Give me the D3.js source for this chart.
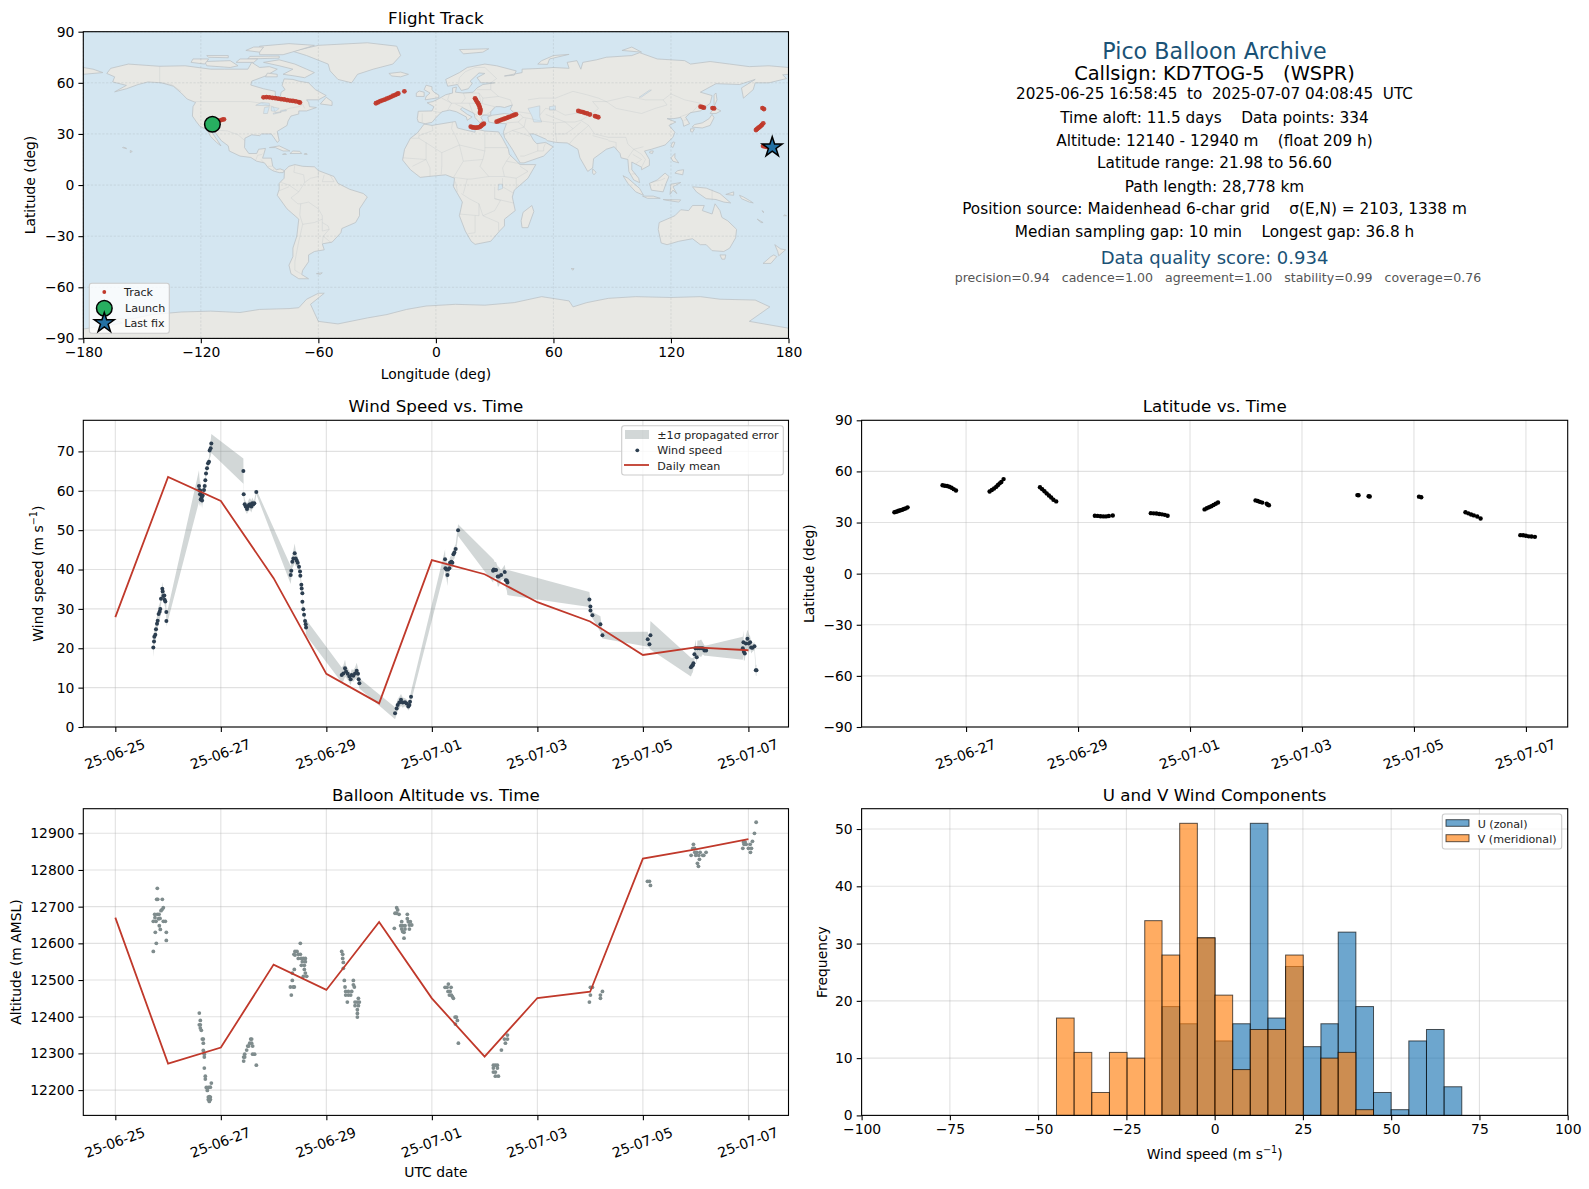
<!DOCTYPE html>
<html><head><meta charset="utf-8">
<script src="https://cdn.jsdelivr.net/npm/d3@7"></script>
<style>html,body{margin:0;padding:0;background:#fff}svg{display:block}text{font-family:"DejaVu Sans",sans-serif;white-space:pre}</style>
</head><body><svg id="c" width="1589" height="1189"></svg>
<script>
// ---------- daily means (days since 2025-06-25 00:00 UTC)
const dayT=[0,1,2,3,4,5,6,7,8,9,10,11,12];
const dayLabels=["25-06-25","25-06-27","25-06-29","25-07-01","25-07-03","25-07-05","25-07-07"];
const dayTicks=[0,2,4,6,8,10,12];
const windMean=[27.9,63.5,57.4,37.8,13.5,6.0,42.4,38.8,31.7,26.8,18.3,20.2,19.5];
const altMean=[12670,12272,12316,12542,12473,12658,12450,12291,12451,12468,12831,12856,12884];
// ---------- wind speed samples
const windT=[.72,.733,.739,.758,.771,.79,.803,.821,.84,.853,.866,.891,.897,.91,.929,.935,.948,.967,.968,
1.586,1.592,1.605,1.612,1.618,1.625,1.637,1.644,1.656,1.681,1.694,1.706,1.719,1.738,1.757,1.776,1.788,1.807,1.82,
2.427,2.433,2.452,2.471,2.496,2.515,2.534,2.553,2.578,2.597,2.616,2.635,2.673,
3.324,3.336,3.355,3.374,3.4,3.419,3.438,3.457,3.482,3.501,3.507,3.526,3.532,3.545,3.546,3.564,3.577,3.596,3.608,3.615,
4.291,4.322,4.354,4.373,4.404,4.436,4.461,4.48,4.512,4.544,4.575,4.6,4.613,4.626,
5.302,5.333,5.352,5.384,5.415,5.447,5.491,5.523,5.554,5.574,5.586,5.605,
6.25,6.257,6.276,6.295,6.307,6.332,6.345,6.37,6.389,6.408,6.427,6.452,6.497,
7.16,7.173,7.192,7.217,7.249,7.268,7.313,7.382,7.401,7.42,7.432,
8.986,9.005,9.006,9.043,9.195,9.233,10.092,10.124,10.143,
10.91,10.929,10.946,10.958,10.977,10.997,11.021,11.034,11.072,11.104,11.135,11.167,11.198,
11.894,11.906,11.913,11.932,11.951,11.982,12.007,12.033,12.052,12.077,12.115,12.14,12.153];
const windV=[20.2,21.7,22.9,23.4,24.8,26.2,27,28.7,29.3,30,32.6,35.1,34.4,33.3,33.4,32.3,31.9,29.2,26.9,
61.2,60.2,59.1,60,57.8,59,58.3,57.5,58.8,60.2,61.2,62.7,64.4,65.7,67,67.4,70.2,70.8,72,
65,59.1,56.6,56,55.4,56,56.4,56.6,56,56.8,56.6,56.8,59.7,
38.6,39.7,42,42.8,44.1,42.8,42.3,41.7,40.7,39.5,38.4,36.1,35.2,34,31.8,29.9,28.5,26.9,26.1,25.3,
13.2,13.6,14.9,14.1,13.5,12.8,12.1,13.2,13,13.6,14.3,13.5,12.1,11.1,
3.5,4.7,5.6,6.2,6.9,6.2,6.3,6,5.2,5.6,6.4,7.7,
42.6,40.3,40,38.6,40,40.3,41.7,42,41.7,43.9,44.3,45.2,50,
39.7,40,39.9,39.9,38.2,38.2,38.6,39.4,37.3,37.2,36.7,
32.4,30.6,29.6,28.4,26.1,23.3,22.3,21,23.3,
15.2,15.5,15.7,16.2,18.5,20,17.7,20,20,20,20,19.4,19.4,
20,21.5,19.1,18.7,21.2,22.4,21.2,21.5,20.2,20.1,20.5,14.4,14.4];
const windSigma=[2.4,2,2,2,2,2,2,2,2,2,1.5,1.7,1.7,1.5,1.5,1.5,1.5,2,1.4,
4,3.5,3,2.5,2,2,2,2,2,1,1,1,1,1,1,1,2,2,2.4,
3.2,1,1.3,1.3,1.3,1.3,1.5,1.5,1.5,1.5,1,1,.6,
2.3,2,1.6,2,2.5,2,1.5,1.5,1,1,1,1,1,1,1,1,1,1,1,2,
1.9,2,2.2,1.5,1.5,1.5,1.5,1.5,1.5,1.5,2,1.5,1.5,1.3,
1.5,1.5,1.5,1.5,1.5,1.3,1,1,1,1,1.2,1.3,
2.5,2.2,2.2,2.8,2,2,1.5,1.5,1.5,1.5,1.5,1.3,1.5,
3,2.5,2,2,2.5,2.5,1.2,1.8,2,2.5,3.2,
1.9,1.5,1,.8,2,.8,1.9,.8,3.6,
2.4,2,1.8,1.5,1.5,2.2,1.5,2,2,2.2,1.5,1.3,1.3,
2.9,3,2.2,1.8,2,2.3,2.5,1.5,1.5,1,1,1.3,1.5];
// ---------- altitude samples
const altT=[.72,.72,.746,.752,.758,.771,.777,.784,.796,.796,.803,.821,.828,.834,.847,.853,.866,.885,.891,.91,.91,.948,.967,.967,
1.592,1.611,1.592,1.611,1.611,1.63,1.649,1.668,1.668,1.668,1.687,1.687,1.687,1.706,1.706,1.725,1.763,1.82,1.744,1.801,1.763,1.801,1.763,1.801,1.782,1.782,
2.566,2.584,2.547,2.528,2.584,2.509,2.603,2.49,2.452,2.603,2.641,2.433,2.452,2.433,2.673,
3.507,3.406,3.444,3.387,3.469,3.507,3.406,3.469,3.526,3.564,3.602,3.545,3.602,3.526,3.583,3.393,3.583,3.355,3.602,3.564,3.627,3.355,3.374,3.318,3.393,3.336,
4.291,4.31,4.31,4.322,4.322,4.341,4.354,4.512,4.512,4.531,4.367,4.417,4.48,4.367,4.417,4.461,4.398,4.607,4.544,4.588,4.626,4.544,4.607,4.588,4.588,4.588,
5.333,5.352,5.302,5.333,5.378,5.535,5.535,5.428,5.554,5.592,5.289,5.409,5.447,5.491,5.574,5.618,5.428,5.491,5.574,5.447,5.472,5.472,
6.313,6.25,6.364,6.288,6.307,6.345,6.332,6.37,6.408,6.389,6.44,6.465,6.484,6.446,6.503,
7.432,7.375,7.432,7.394,7.318,7.166,7.204,7.242,7.166,7.242,7.166,7.204,7.204,7.261,
9.005,9.043,9.005,8.986,9.233,9.195,9.195,
10.086,10.124,10.143,
10.958,10.946,10.977,10.984,11.021,11.085,11.198,10.914,11.002,11.059,11.135,11.154,11.072,11.034,11.053,
12.147,12.115,12.077,11.894,11.938,11.919,11.957,12.033,11.919,12.001,12.058,11.906,12.039];
const altV=[12660,12578,12679,12670,12630,12660,12600,12720,12750,12679,12720,12667,12679,12648,12668,12638,12689,12692,12720,12697,12660,12660,12630,12608,
12410,12390,12378,12378,12369,12363,12339,12339,12328,12308,12298,12290,12260,12238,12230,12207,12207,12219,12199,12208,12181,12181,12174,12174,12169,12182,
12339,12339,12328,12320,12328,12320,12320,12309,12298,12298,12298,12290,12290,12279,12268,
12600,12578,12578,12570,12570,12570,12568,12559,12559,12559,12559,12550,12550,12540,12540,12529,12529,12519,12519,12510,12510,12499,12481,12481,12481,12459,
12578,12570,12559,12548,12532,12499,12481,12499,12487,12481,12469,12469,12469,12459,12459,12459,12440,12450,12440,12440,12440,12430,12430,12419,12409,12399,
12697,12691,12682,12682,12679,12679,12667,12659,12659,12659,12641,12648,12648,12648,12650,12650,12639,12639,12639,12632,12630,12614,
12489,12480,12480,12480,12469,12469,12459,12459,12450,12455,12399,12399,12390,12380,12328,
12350,12339,12339,12328,12309,12268,12268,12268,12260,12260,12249,12249,12238,12238,
12480,12480,12459,12440,12469,12459,12450,
12769,12769,12758,
12870,12859,12859,12848,12848,12848,12848,12840,12840,12840,12840,12840,12829,12818,12810,
12930,12900,12878,12859,12876,12876,12870,12870,12870,12859,12859,12876,12848];
// ---------- latitude samples
const latT=[.72,.75,.78,.8,.83,.86,.89,.92,.955,1.58,1.62,1.66,1.7,1.74,1.78,1.82,2.42,2.46,2.5,2.54,2.57,2.6,2.63,2.67,
3.32,3.36,3.4,3.44,3.48,3.52,3.56,3.61,4.3,4.35,4.4,4.45,4.5,4.55,4.62,5.3,5.35,5.4,5.45,5.5,5.55,5.6,
6.26,6.3,6.34,6.38,6.42,6.46,6.5,7.17,7.21,7.25,7.29,7.37,7.39,7.41,8.99,9.01,9.19,9.21,10.09,10.13,
10.92,10.97,11.02,11.07,11.13,11.19,11.9,11.95,12,12.05,12.1,12.16];
const latV=[36,36.3,36.6,36.9,37.2,37.5,37.9,38.3,38.9,51.9,51.6,51.4,51,50.4,49.6,48.8,48.2,49.1,50,51,52,53,53.8,55.5,
50.7,49.6,48.4,47.1,45.9,44.7,43.4,42.4,34,33.9,33.7,33.6,33.6,33.8,34.1,35.5,35.4,35.3,35,34.8,34.5,34,
37.7,38.4,39,39.6,40.3,41,41.8,43,42.6,42.1,41.7,41,40.4,40.1,46.1,46,45.4,45.3,45.2,44.8,
36,35.4,34.7,34.2,33.5,32.4,22.6,22.5,22.2,21.9,21.8,21.6];
// ---------- flight track
const trackLon=[-114,-113,-112,-111,-110,-109,-108.2,
-88,-86.5,-85,-83.5,-82,-80.5,-79,-77.5,-76,-74.5,-73,-71.5,-70,-69.4,
-30.6,-29.5,-28.4,-27.3,-26.2,-25.1,-24,-22.9,-21.8,-20.7,-19.7,-19.2,-16.1,
20,20.4,20.9,21.5,21.9,22.3,22.5,22.8,22.6,22.5,
17.8,18.5,19.1,20,20.8,21.6,22.5,23,23.4,24,24.5,
31,32,33,34,35,36,37,38,39,40,40.9,
72.7,73.8,75,76,77.2,78.6,81.2,82,82.9,
135.1,136,136.8,141.2,142,166.7,167.5,
163.4,164,164.6,165.2,165.8,166.4,167.1,
167,168,169,170,171.7];
const trackLat=[36,36.6,37,37.5,38,38.4,38.6,
51.5,51.6,51.5,51.2,51,50.7,50.4,50.2,49.9,49.6,49.4,49.1,48.7,48.4,
48,48.6,49.2,49.7,50.1,50.7,51.2,51.8,52.4,52.9,53.5,53.8,55,
50.9,50,49,48,47,46,45,44,43,42.3,
34.25,33.9,33.8,33.7,33.7,33.8,34.2,34.6,35.1,35.6,36,
37.2,37.6,38.1,38.5,38.9,39.3,39.8,40.2,40.7,41.1,41.5,
43.5,43.1,42.8,42.4,42,41.4,40.5,40.2,39.8,
46,45.7,45.4,45.2,45,45.2,44.6,
32.3,32.9,33.5,34,34.6,35.3,36.2,
22.9,22.6,22.4,22.2,22.2];
const launchLonLat=[-114.1,35.7];
const lastFixLonLat=[171.7,22.2];
// ---------- histogram
const binEdges=[-44.8,-39.8,-34.8,-29.8,-24.8,-19.8,-14.9,-9.9,-4.9,0.1,5.1,10.1,15.1,20.1,25.1,30.1,35,40,45,50,55,60,65,70];
const uCounts=[0,0,0,0,0,0,19,16,31,13,16,51,17,26,12,16,32,19,4,1,13,15,5];
const vCounts=[17,11,4,11,10,34,28,51,31,21,8,15,15,28,0,10,11,1,0,0,0,0,0];
// ---------- info panel
const infoLines=[
["Pico Balloon Archive",50.7,22.2,"#1a5276"],
["Callsign: KD7TOG-5   (WSPR)",73,19.4,"#000"],
["2025-06-25 16:58:45  to  2025-07-07 04:08:45  UTC",94.2,15.2,"#000"],
["Time aloft: 11.5 days    Data points: 334",117.5,15.3,"#000"],
["Altitude: 12140 - 12940 m    (float 209 h)",140.9,15.3,"#000"],
["Latitude range: 21.98 to 56.60",163.2,15.3,"#000"],
["Path length: 28,778 km",186.5,15.3,"#000"],
["Position source: Maidenhead 6-char grid    σ(E,N) = 2103, 1338 m",208.8,15.3,"#000"],
["Median sampling gap: 10 min    Longest gap: 36.8 h",232,15.3,"#000"],
["Data quality score: 0.934",257.4,18,"#1a5276"],
["precision=0.94   cadence=1.00   agreement=1.00   stability=0.99   coverage=0.76",277.7,12.55,"#555"]];
// ---------- geography (lon, lat)
const landPolys=[
[[-168,65.5],[-166,68.5],[-157,71],[-141,69.7],[-128,70],[-115,68],[-108,68],[-96,68],[-94,72],[-90,69],[-85,69.5],[-81,68],[-87,64],[-94,61],[-94.5,58.7],[-88,56.5],[-82,55],[-82,52],[-79.5,51.5],[-79,54.5],[-77,56],[-78.5,58.5],[-77.5,62.3],[-73,62],[-70,61],[-65,60],[-61.5,56],[-56,52.5],[-60,50],[-66,50],[-65,48.5],[-64.5,46],[-61,45.5],[-66,43.5],[-70,43.5],[-70,41.7],[-74,40.5],[-75.5,37.5],[-76,35],[-81,31.5],[-80,26],[-81,25],[-82.8,28],[-84,30],[-89,30],[-90,29],[-94,29.5],[-97.5,27.5],[-97.7,22],[-95.5,18.5],[-91.5,18.5],[-90.5,21],[-87,21.5],[-88,17.5],[-88.5,15.8],[-84,15.8],[-83.3,11],[-81.5,9],[-79.5,9.5],[-77.3,8.5],[-78,7.3],[-80,7.3],[-83,8.3],[-85.5,10],[-87.5,13],[-91.5,14],[-94.5,16.2],[-100,17],[-105.5,20],[-106,23],[-109.5,26],[-112.8,31],[-114.7,31.5],[-112,27],[-109.7,23],[-112,25],[-115,28.5],[-117,32.5],[-120.5,34.5],[-122.5,37.5],[-124.3,40.5],[-124,46],[-122.7,48.5],[-127,50.5],[-130,54],[-134,58],[-140,60],[-147,60.5],[-152,59],[-158,56.5],[-164,54.7],[-158,58.5],[-165,60.5],[-164,63.5]],
[[-73,78.5],[-60,82],[-35,83.5],[-20,81.5],[-18,76],[-22,71],[-32,68],[-40,65],[-43,60],[-50,62],[-54,67],[-55,71],[-66,76]],
[[-62,66],[-67,63],[-72,64],[-78,65],[-73,68],[-80,70],[-88,72],[-80,73.5],[-72,71],[-66,68]],
[[-117,70],[-105,69],[-101,70],[-105,73],[-118,72.5]],
[[-125,72],[-118,71],[-116,74],[-124,74]],
[[-90,76.5],[-78,76.5],[-72,78.5],[-62,82],[-75,83],[-90,81.5]],
[[-96,74],[-80,74.5],[-80,75.7],[-95,75.5]],
[[-97,79],[-90,78],[-88,81],[-93,81]],
[[-116,75],[-106,74.7],[-106,76],[-117,76]],
[[-102,72],[-93,72],[-91,74],[-100,74]],
[[-87,63.5],[-81,63.5],[-81,65],[-86,65.7]],
[[-59,47.6],[-53,46.7],[-53,49],[-56,51.5]],
[[-85,22],[-80,23],[-74.5,20],[-78,20],[-82,22]],
[[-74.5,18.5],[-68.5,18.5],[-69.5,19.8],[-73,20]],
[[-78.3,18],[-76.3,18],[-77,18.5]],
[[-67.2,18],[-65.7,18],[-66,18.5],[-67,18.5]],
[[-156,19],[-155,19.7],[-156,20.3]],
[[-160,22],[-158,21.3],[-158,21.7],[-159.5,22.2]],
[[-77.3,8.5],[-75,11],[-72,12],[-68,11],[-62,10.7],[-60,8.5],[-52,5],[-50,1],[-44,-2.5],[-37,-5],[-35,-7],[-39,-14],[-39,-18],[-41,-22],[-48,-25.5],[-48.5,-28],[-53,-33.5],[-58,-34.5],[-57,-38],[-62,-39],[-65,-41],[-65,-45],[-68,-50],[-68.5,-52.5],[-65,-55],[-70,-55],[-74,-52],[-75,-47],[-73,-42],[-73,-37],[-71,-30],[-70,-20],[-76,-14],[-81,-6],[-80,-2.5],[-80,1],[-77.5,4]],
[[-61,-52],[-58,-51.5],[-59,-52.4]],
[[-6,35.8],[-2,35],[10,37.3],[11,33.5],[15,32.3],[20,31],[20,33],[25,31.7],[32,31.2],[34,27.5],[37,21],[37.5,18],[43,12],[51,12],[47,4],[40,-3],[39,-7],[40.5,-15],[35,-20],[35,-24],[32.5,-27],[28,-33],[20,-34.8],[18,-33],[15,-27],[12,-18],[13.5,-10],[9,-1],[9.5,4],[5,6],[-4,5],[-8,4.5],[-13,9],[-17,14.7],[-16,21],[-13,27.5],[-9.5,30.5]],
[[44,-25],[47,-25],[50,-15.5],[49,-12],[44.5,-16],[43.5,-21]],
[[-9,37],[-9.5,39],[-9,43.3],[-2,43.5],[-1,46],[-4.5,48.3],[-1.5,49],[2,51],[5,53],[8.5,54],[8.5,57],[10.5,57.5],[10,54.5],[14,54],[19,54.5],[21,57],[24,59],[30,60],[23,60],[21,63],[25,65.5],[22,65.8],[17.5,61],[18.5,59.5],[16.5,56.5],[13,55.5],[11,59],[6,58],[5,62],[12,66],[16,69],[25,71],[31,70],[41,67],[40,64.5],[35,64],[44,66],[44,68],[54,68.5],[60,69],[68,68.5],[67,72],[72,73],[74,68],[75,72],[82,73.5],[87,75],[100,76],[104,77.7],[113,74],[127,73],[130,71],[140,72.5],[150,71],[160,69.5],[170,70],[180,69],[180,65],[177,64.7],[179,62.5],[170,60],[163,60],[162,56],[157,51],[156,57],[163,62],[155,59],[143,59.5],[135,54.5],[141,52.5],[140,48],[135,43.5],[130,42.5],[127.5,39.8],[129.5,36],[126.5,34.5],[126,37.5],[125,39.7],[121.5,39],[118,39],[122.5,37],[119,35],[122,31],[121,28],[117,23.5],[110,21],[106.5,20],[109,15],[109,11.5],[105,9],[105,10.5],[100,13.5],[100,9],[103.5,4],[104,1.4],[101,3],[98.5,8],[98,15],[94.5,16],[94,18.5],[91,22.5],[87,21],[80.5,15.5],[80,10],[77.5,8],[73.5,16],[72.5,21],[67,24.7],[61.5,25],[57,26],[56,27],[50,30],[48,30],[50,26],[51.5,24.3],[56,25],[59.8,22.5],[55,17],[45,13],[43,13],[39,21],[35,28],[34.5,31.3],[36,36],[30,36.3],[27,37],[26.5,40],[29,41],[35,42],[41,41],[38,44.5],[39,47],[35,45.5],[33,46],[30.5,46],[28,43],[28,41],[24,41],[23,39.5],[24,38],[22.5,36.5],[20,39.5],[19.5,42],[13.5,45.5],[12.5,44.5],[16,41.5],[18.5,40],[16,38],[15.5,40],[10.5,43],[7,44],[3,43],[0,39.5],[-2,36.8],[-5.5,36]],
[[-180,65],[-170,66],[-175,68],[-180,69]],
[[-5.5,50],[1.5,51.3],[1.5,52.8],[-1,54.5],[-2,56],[-2,57.7],[-5,58.6],[-6,56],[-3,54],[-5,52]],
[[-10,52],[-6,52],[-6,54.5],[-8.5,55.2],[-10,54]],
[[-24,65.5],[-18,66.3],[-14,65],[-18,63.5],[-22.5,64]],
[[14,77],[24,78],[27,80],[12,79.5]],
[[52,71],[57,70.8],[58,74],[68,76.7],[60,76],[54,73]],
[[95,79],[105,78],[100,81]],
[[142,46],[143.5,50],[143,54],[142,53],[142,48]],
[[130.8,34],[136,33.5],[140,35],[142,39.5],[141,41.5],[139.5,39],[136,36.5],[132,35.5]],
[[140,42],[143,42],[145.5,43.5],[142,45.5]],
[[130,33],[132,33],[131,31],[130,31.5]],
[[120,23],[121,22],[122,25],[121,25.3]],
[[109,19],[110.5,18.5],[111,20],[109.5,20]],
[[80,9.5],[81.8,7.5],[80.7,6],[80,7]],
[[120,16],[122,18.5],[122,16],[124,13],[121,14]],
[[122,7],[126,6],[126.5,9],[123.5,8.5]],
[[109,1],[113,3],[117,7],[119,5],[117.5,1],[116,-4],[110,-3]],
[[95.5,5.5],[98,4],[104,-2],[106,-6],[102,-4],[98,1]],
[[105.5,-6.5],[111,-6.5],[114.5,-7.8],[108,-7.8]],
[[119.5,-5.5],[120,.5],[125,1.5],[121,-1],[123,-5],[121,-3]],
[[131,-1],[138,-1.8],[145,-5],[150.5,-10.5],[147,-10],[143,-8.5],[138,-8],[133,-4]],
[[116,-8.5],[125,-8.7],[124,-10],[118,-9]],
[[148,-5.5],[152,-4],[152,-6]],
[[155,-6],[157,-7],[160,-9],[162,-10.5],[160,-10],[156,-8]],
[[166.5,-15],[167.5,-16],[167,-16]],
[[164,-20],[167,-22],[166,-22]],
[[178,-17.5],[179,-18],[177.5,-18]],
[[114,-22],[113.5,-26],[115,-34],[118,-35],[124,-33],[131,-31.5],[135,-35],[138,-35],[141,-38.5],[147,-39],[150,-37],[153,-31],[153.5,-26],[149,-21],[146,-19],[145,-15],[142.5,-11],[141,-17],[136,-15],[137,-12],[131,-12],[129,-15],[125,-14.5],[122,-18],[118,-20]],
[[145,-41],[148,-41],[147.5,-43.5],[146,-43.5]],
[[173,-35],[176,-37.5],[178.5,-38],[175,-41.5],[174.5,-39]],
[[172.5,-41],[174,-42],[171,-46],[167,-46],[171,-42]],
[[69,-49],[70.5,-49],[70,-50]],
[[-180,-84.5],[-180,-90],[180,-90],[180,-84],[160,-80],[170.5,-71.5],[163,-67.5],[145,-67],[135,-65.5],[120,-66],[102,-65.5],[88,-66.5],[77,-69],[70,-71.5],[68,-68],[54,-65.5],[40,-69],[25,-70.5],[10,-70],[-5,-71],[-15,-73],[-25,-76],[-35,-78],[-50,-81.5],[-60,-80],[-62,-75],[-64,-70],[-57,-63.5],[-60,-63.5],[-66,-67],[-70,-72],[-75,-72.5],[-90,-73],[-100,-74.8],[-115,-74],[-130,-74.5],[-145,-76],[-155,-78.5],[-165,-78.5],[-160,-81]]
];
const lakePolys=[
[[47,45],[53,46.5],[53,40],[54,37],[50,37],[49,40.5]],
[[-92,46.8],[-85,46.5],[-85,48],[-89,48.5]],
[[-88,42],[-86,42],[-85,46],[-87.5,45.5]],
[[-84,43.5],[-81.7,43.3],[-80,45],[-84,46]],
[[-83,41.6],[-79,42.7],[-79,43],[-83,42.2]],
[[-79.5,43.3],[-76.3,43.5],[-76.5,44.2],[-79,43.8]],
[[31.7,-3],[34,-2],[34,.5],[32,.5]],
[[58,44],[61,44],[61,46.5],[58,46]],
[[103.7,51.5],[105,51.7],[110,55.7],[109,55.7]]
];
const borderLines=[
[[-123,49],[-95,49],[-89,48],[-83,46],[-82,42.5],[-79,43],[-75,45],[-70,46],[-68,47.3],[-67,45]],
[[-141,69.7],[-141,60],[-135,59],[-130,55]],
[[-117,32.5],[-106.5,31.8],[-101,29.5],[-97.5,26]],
[[-92,14.5],[-91,17.5],[-89,17.9],[-88.5,18.4]],[[-89.3,15],[-87.7,13]],[[-85.7,11],[-83.7,11]],[[-83,8.5],[-82.7,9.6]],[[-77.3,8.5],[-77.9,7.2]],
[[-72,12],[-72.5,7.5],[-67.5,6],[-67,1.5]],[[-67,1.5],[-70,-4],[-75,0],[-79,1.5]],[[-60,8.5],[-60,5],[-64,4],[-67,1.5]],[[-57,6],[-58,2],[-52,2],[-54,5.8]],
[[-70,-4],[-74,-7.5],[-70.5,-11],[-69,-11],[-65,-10],[-60,-14],[-58,-18],[-58,-20]],[[-69,-11],[-69.5,-17.5],[-68,-23],[-70,-33],[-72,-45],[-72,-50],[-69,-52]],[[-68,-23],[-62,-22],[-58,-20]],[[-58,-20],[-58,-27],[-54.5,-26],[-55,-24],[-58,-22]],[[-54.5,-26],[-57.5,-30],[-53.5,-33.8]],[[-58,-34],[-57.5,-30]],[[-80.3,-3.5],[-75,-1]],
[[-13,27.5],[-8.7,27.5],[-8.7,29],[-1.5,32],[-2,35]],[[-8.7,27.5],[3,19],[12,23.5],[9.5,30],[8,33],[8.5,37]],[[12,23.5],[25,20],[25,31.7]],[[25,22],[37,22]],[[25,20],[24,15],[22.5,11],[27,5],[35,5],[34,10],[36,14],[38.5,18]],[[36,14],[43,12.5]],[[35,5],[41,4],[47,8],[43,11]],[[41,4],[41,-1.7]],[[34,4],[34,-1],[39.5,-4.7]],[[30,-1],[30,-8],[39.5,-10.5]],[[13,-5],[17,-8],[22,-11],[24,-18],[30,-15],[33,-9],[30,-8]],[[22,-11],[22,-18],[12,-17]],[[20,-18],[20,-28],[16.5,-28.5]],[[24,-18],[32,-22],[32,-27]],[[14,14],[12,23.5]],[[14,14],[24,15]],[[14,14],[9,4.5]],[[3,19],[3,11],[2.7,6.3]],[[-17,16],[-5,15],[-12,11]],[[-5,15],[-5,25]],[[-5,15],[-3,10],[-3,5]],[[9,4.5],[16,3.5],[18,3.5],[27,5]],[[16,3.5],[14,-5]],[[10,2],[11,-4]],
[[-1.7,43.4],[3,42.4]],[[-7,37],[-7,42]],[[3,51],[8,48],[6,44]],[[7,54],[6,50],[8,48],[13,48],[17,48],[23,48],[22,54],[14,54],[15,51],[13,48]],[[10,47.5],[13.7,45.7]],[[17,48],[19,42]],[[23,48],[30,46]],[[30,46],[28,43]],[[22,41],[26,41.5],[28,43]],[[19,42],[21,41],[21,40]],[[11.5,59],[12,63],[15,66.5],[20,69],[25,69],[31,62.5],[28,60]],[[22,54],[24,51],[23.7,48]],[[24,51],[32,52],[38,50],[39,47]],[[28,56],[32,52]],[[28,60],[28,56],[21,56]],
[[36,36.5],[42,37],[44.5,39.7],[43,41.5]],[[44.5,39.7],[48,39]],[[45,34],[42,37]],[[39,32],[45,34],[48,30]],[[34.5,29.5],[39,32]],[[45,34],[46,39]],[[39,32],[47,29],[48,28.5]],[[52,24],[52,20],[55,20],[55,22],[56,24.5]],[[52,20],[45,17],[43,17]],
[[48,39],[54,37.5],[61,36.5],[61,31],[61.7,25]],[[61,36.5],[66,37],[71,37],[74,38]],[[66,37],[70,33],[66,30],[61,30]],[[70,33],[74,37]],[[68,24],[71,28],[75,32],[78,35]],[[78,35],[81,30],[88,28],[92,28],[97,28]],[[80,29],[88,26.5]],[[88,26],[92,25],[92,21]],[[97,28],[98,24],[101,21],[98,16]],[[101,21],[105,18],[107,15],[105,10.5]],[[100.5,18],[105,15],[102,12.5]],[[100,6.5],[102,6.5]],[[101,21],[106,22.5]],
[[47,50],[53,51],[61,51],[70,55],[77,53],[83,51],[87,49]],[[53,41],[56,45],[61,44],[66,41],[71,42],[80,42],[83,45],[80,49],[87,49]],[[56,41.5],[66,37]],[[87,49],[92,45],[105,42],[112,45],[118,47],[116,50]],[[87,49],[98,52],[107,50],[116,50]],[[116,50],[120,53.5],[127,50],[135,48],[131,43]],[[124.5,40],[130.5,42.5]],[[126.5,38],[128.5,38.5]],[[39,43.5],[48,42]],[[74,38],[80,42]],[[74,38],[78,35]],[[141,-2.5],[141,-9]],[[110,1.5],[115,3],[117,4]]
];

// ---------- layout & style
const red="#c0392b", navy="#2c3e50", slate="#7f8c8d";
const L1=83.3,R1=788.5,L2=861.6,R2=1567.7;
const svg=d3.select("#c");
const FS=13.9;
function panel(o){
  const g=svg.append("g");
  const x=d3.scaleLinear().domain(o.xd).range([o.l,o.r]);
  const y=d3.scaleLinear().domain(o.yd).range([o.b,o.t]);
  const under=g.append("g");
  if(o.bg) under.append("rect").attr("x",o.l).attr("y",o.t).attr("width",o.r-o.l).attr("height",o.b-o.t).attr("fill",o.bg);
  const marks=g.append("g");
  const gridG=o.gridOver?g.append("g"):under;
  gridG.selectAll(".gx").data(o.xt).join("line").attr("x1",d=>x(d)).attr("x2",d=>x(d)).attr("y1",o.t).attr("y2",o.b)
    .attr("stroke",o.gridColor||"#b0b0b0").attr("stroke-opacity",o.gridOp||.38).attr("stroke-width",o.gridW||1.1).attr("stroke-dasharray",o.gridDash||null);
  gridG.selectAll(".gy").data(o.yt).join("line").attr("y1",d=>y(d)).attr("y2",d=>y(d)).attr("x1",o.l).attr("x2",o.r)
    .attr("stroke",o.gridColor||"#b0b0b0").attr("stroke-opacity",o.gridOp||.38).attr("stroke-width",o.gridW||1.1).attr("stroke-dasharray",o.gridDash||null);
  const ax=g.append("g").attr("transform",`translate(0,${o.b})`).call(d3.axisBottom(x).tickValues(o.xt).tickSize(4.9).tickPadding(4).tickFormat(o.xf||(d=>String(d).replace("-","\u2212"))));
  const ay=g.append("g").attr("transform",`translate(${o.l},0)`).call(d3.axisLeft(y).tickValues(o.yt).tickSize(4.9).tickPadding(4).tickFormat(o.yf||(d=>String(d).replace("-","\u2212"))));
  for(const a of [ax,ay]){a.select(".domain").remove();a.selectAll("line").attr("stroke","#000").attr("stroke-width",1.1);a.selectAll("text").attr("font-size",FS).attr("font-family","DejaVu Sans").attr("fill","#000");}
  if(o.rot){ax.selectAll("text").attr("text-anchor","middle").attr("dy",null).attr("dominant-baseline","central")
    .attr("transform",d=>`translate(-1,${o.rotY}) rotate(-20)`).attr("y",0).attr("x",0);}
  g.append("rect").attr("x",o.l).attr("y",o.t).attr("width",o.r-o.l).attr("height",o.b-o.t).attr("fill","none").attr("stroke","#000").attr("stroke-width",1.1).attr("class","frame");
  g.append("text").attr("x",(o.l+o.r)/2).attr("y",o.t-(o.titleGap||7.5)).attr("text-anchor","middle").attr("font-size",16.7).text(o.title);
  if(o.xlabel) label(g,o.xlabel,(o.l+o.r)/2,o.xlabelY,false);
  if(o.ylabel) label(g,o.ylabel,o.ylabelX,(o.t+o.b)/2,true);
  const clipId="clip"+Math.round(o.l)+Math.round(o.t);
  svg.append("clipPath").attr("id",clipId).append("rect").attr("x",o.l).attr("y",o.t).attr("width",o.r-o.l).attr("height",o.b-o.t);
  marks.attr("clip-path",`url(#${clipId})`);
  return {g,x,y,marks,over:g.append("g")};
}
function label(g,s,px,py,vert){
  const t=g.append("text").attr("font-size",FS).attr("text-anchor","middle").attr("dominant-baseline","central");
  if(vert) t.attr("transform",`translate(${px},${py}) rotate(-90)`); else t.attr("transform",`translate(${px},${py})`);
  const m=s.match(/^(.*)m s-1(\))$/);
  if(m){t.append("tspan").text(m[1]+"m s");t.append("tspan").attr("dy",-5).attr("font-size",9.7).text("\u22121");t.append("tspan").attr("dy",5).text(m[2]);}
  else t.text(s);
}
const dayFmt=d=>dayLabels[dayTicks.indexOf(d)];
function legendBox(g,x,y,w,h){g.append("rect").attr("x",x).attr("y",y).attr("width",w).attr("height",h).attr("rx",2.5).attr("fill","#fff").attr("fill-opacity",.8).attr("stroke","#ccc").attr("stroke-width",1.1);}
function legendText(g,s,x,y){g.append("text").attr("x",x).attr("y",y).attr("font-size",11.1).attr("dominant-baseline","central").attr("fill","#222").text(s);}

// ---------- map
const mp=panel({l:L1,r:R1,t:31.7,b:338.4,xd:[-180,180],yd:[-90,90],xt:d3.range(-180,181,60),yt:d3.range(-90,91,30),bg:"#d4e6f1",
  gridOver:true,gridDash:"2.2,1.6",gridColor:"#9aa0a6",gridOp:.4,gridW:.6,title:"Flight Track",xlabel:"Longitude (deg)",xlabelY:374,ylabel:"Latitude (deg)",ylabelX:30.4});
const geo=d3.line().x(d=>mp.x(d[0])).y(d=>mp.y(d[1]));
const poly=d=>geo(d)+"Z";
mp.marks.selectAll(".land").data(landPolys).join("path").attr("d",poly).attr("fill","#e8e8e4").attr("stroke","#bdc3c7").attr("stroke-width",.8).attr("stroke-linejoin","round");
mp.marks.selectAll(".lake").data(lakePolys).join("path").attr("d",poly).attr("fill","#d4e6f1").attr("stroke","#bdc3c7").attr("stroke-width",.5);
mp.marks.selectAll(".bdr").data(borderLines).join("path").attr("d",geo).attr("fill","none").attr("stroke","#bdc3c7").attr("stroke-opacity",.5).attr("stroke-width",.6);
mp.marks.selectAll(".tr").data(trackLon).join("circle").attr("cx",d=>mp.x(d)).attr("cy",(d,i)=>mp.y(trackLat[i])).attr("r",2.4).attr("fill",red).attr("fill-opacity",.95);
const starPath=d3.symbol(d3.symbolStar,124)();
mp.over.append("circle").attr("cx",mp.x(launchLonLat[0])).attr("cy",mp.y(launchLonLat[1])).attr("r",7.8).attr("fill","#27ae60").attr("stroke","#000").attr("stroke-width",1.5);
mp.over.append("path").attr("d",starPath).attr("transform",`translate(${mp.x(lastFixLonLat[0])},${mp.y(lastFixLonLat[1])})`).attr("fill","#2471a3").attr("stroke","#000").attr("stroke-width",1.5);
legendBox(mp.over,89.3,283.3,80,50);
mp.over.append("circle").attr("cx",104.3).attr("cy",292).attr("r",1.9).attr("fill",red);
legendText(mp.over,"Track",124,292);
mp.over.append("circle").attr("cx",104.3).attr("cy",308.3).attr("r",7.8).attr("fill","#27ae60").attr("stroke","#000").attr("stroke-width",1.5);
legendText(mp.over,"Launch",125,308.3);
mp.over.append("path").attr("d",starPath).attr("transform","translate(104.3,323)").attr("fill","#2471a3").attr("stroke","#000").attr("stroke-width",1.5);
legendText(mp.over,"Last fix",124.3,323);

// ---------- info panel
svg.append("g").selectAll("text").data(infoLines).join("text").attr("x",(d,i)=>i===infoLines.length-1?1218:1214.5).attr("y",d=>d[1]).attr("text-anchor","middle").attr("dominant-baseline","central")
 .attr("font-size",d=>d[2]).attr("fill",d=>d[3]).text(d=>d[0]);

// ---------- wind speed
const wp=panel({l:L1,r:R1,t:420.3,b:727,xd:[-.607,12.76],yd:[0,77.9],xt:dayTicks,yt:d3.range(0,71,10),xf:dayFmt,yf:d3.format("d"),rot:true,rotY:27,titleGap:8.5,
 title:"Wind Speed vs. Time",ylabel:"Wind speed (m s-1)",ylabelX:37.5});
const idx=d3.range(windT.length);
wp.marks.append("path").datum(idx).attr("d",d3.area().x(i=>wp.x(windT[i])).y0(i=>wp.y(windV[i]-windSigma[i])).y1(i=>wp.y(windV[i]+windSigma[i])))
 .attr("fill",slate).attr("fill-opacity",.35);
wp.marks.selectAll(".p").data(idx).join("circle").attr("cx",i=>wp.x(windT[i])).attr("cy",i=>wp.y(windV[i])).attr("r",2).attr("fill",navy);
wp.marks.append("path").datum(dayT).attr("d",d3.line().x(d=>wp.x(d)).y((d,i)=>wp.y(windMean[i]))).attr("fill","none").attr("stroke",red).attr("stroke-width",1.8);
legendBox(wp.over,621.7,425.7,161.6,49.3);
wp.over.append("rect").attr("x",625).attr("y",430).attr("width",24).attr("height",9).attr("fill",slate).attr("fill-opacity",.35);
legendText(wp.over,"±1σ propagated error",657.3,435);
wp.over.append("circle").attr("cx",637.3).attr("cy",450.3).attr("r",1.9).attr("fill",navy);
legendText(wp.over,"Wind speed",657.3,450.3);
wp.over.append("line").attr("x1",624).attr("x2",649).attr("y1",465).attr("y2",465).attr("stroke",red).attr("stroke-width",1.8);
legendText(wp.over,"Daily mean",657.3,466);

// ---------- latitude
const lp=panel({l:L2,r:R2,t:420.3,b:727,xd:[.134,12.746],yd:[-90,90],xt:dayTicks.slice(1),yt:d3.range(-90,91,30),xf:dayFmt,rot:true,rotY:27,titleGap:8.5,
 title:"Latitude vs. Time",ylabel:"Latitude (deg)",ylabelX:808.7});
lp.marks.selectAll(".p").data(latT).join("circle").attr("cx",d=>lp.x(d)).attr("cy",(d,i)=>lp.y(latV[i])).attr("r",2.2).attr("fill","#000");

// ---------- altitude
const ap=panel({l:L1,r:R1,t:808.7,b:1115.4,xd:[-.607,12.76],yd:[12131,12967],xt:dayTicks,yt:d3.range(12200,12901,100),xf:dayFmt,yf:d3.format("d"),rot:true,rotY:27,
 title:"Balloon Altitude vs. Time",xlabel:"UTC date",xlabelY:1171.5,ylabel:"Altitude (m AMSL)",ylabelX:16.2});
ap.marks.selectAll(".p").data(altT).join("circle").attr("cx",d=>ap.x(d)).attr("cy",(d,i)=>ap.y(altV[i])).attr("r",1.9).attr("fill",slate);
ap.marks.append("path").datum(dayT).attr("d",d3.line().x(d=>ap.x(d)).y((d,i)=>ap.y(altMean[i]))).attr("fill","none").attr("stroke",red).attr("stroke-width",1.8);

// ---------- histogram
const hp=panel({l:L2,r:R2,t:808.7,b:1115.4,xd:[-100,100],yd:[0,53.55],xt:d3.range(-100,101,25),yt:d3.range(0,51,10),yf:d3.format("d"),
 title:"U and V Wind Components",xlabel:"Wind speed (m s-1)",xlabelY:1154,ylabel:"Frequency",ylabelX:822});
function bars(counts,color){
  hp.marks.append("g").selectAll("rect").data(counts.map((c,i)=>({c,i})).filter(d=>d.c>0)).join("rect")
   .attr("x",d=>hp.x(binEdges[d.i])).attr("width",d=>hp.x(binEdges[d.i+1])-hp.x(binEdges[d.i]))
   .attr("y",d=>hp.y(d.c)).attr("height",d=>hp.y(0)-hp.y(d.c))
   .attr("fill",color).attr("fill-opacity",.65).attr("stroke","#000").attr("stroke-opacity",.65).attr("stroke-width",1);
}
bars(uCounts,"#1f77b4");
bars(vCounts,"#ff7f0e");
legendBox(hp.over,1442.3,814,119.4,35);
hp.over.append("rect").attr("x",1446).attr("y",819.7).attr("width",23).attr("height",6.6).attr("fill","#1f77b4").attr("fill-opacity",.65).attr("stroke","#000").attr("stroke-opacity",.65);
legendText(hp.over,"U (zonal)",1477.7,824);
hp.over.append("rect").attr("x",1446).attr("y",834.7).attr("width",23).attr("height",7).attr("fill","#ff7f0e").attr("fill-opacity",.65).attr("stroke","#000").attr("stroke-opacity",.65);
legendText(hp.over,"V (meridional)",1477.7,839.3);
</script></body></html>
